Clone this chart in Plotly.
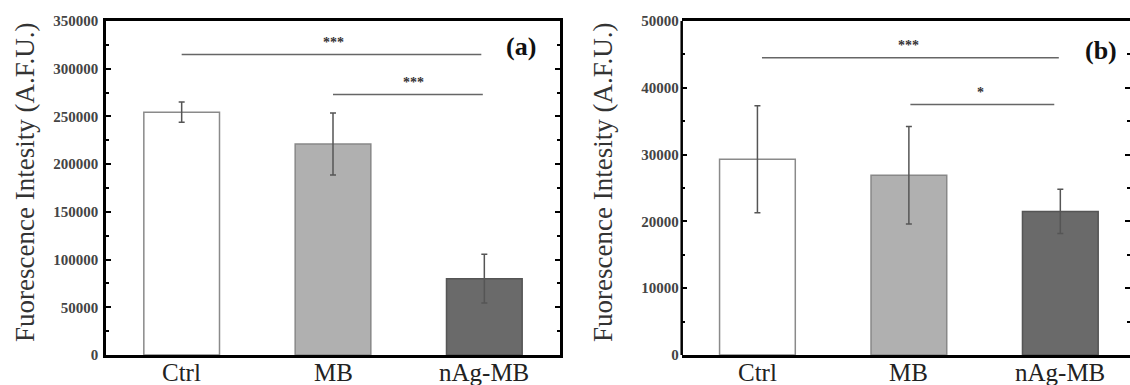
import plotly.graph_objects as go

categories = ["Ctrl", "MB", "nAg-MB"]
values_a = [254500, 221000, 80000]
errors_a = [10500, 32500, 25500]
values_b = [29300, 26900, 21500]
errors_b = [8000, 7300, 3300]
bar_fill = ["#ffffff", "#b0b0b0", "#6a6a6a"]
bar_line = ["#8a8a8a", "#888888", "#555555"]

# significance brackets: (start index, end index, y, label, label x index, label y)
sig_a = [(0.0, 1.98, 315000, "***", 1.0, 327000), (1.0, 1.99, 273000, "***", 1.535, 285500)]
sig_b = [(0.03, 1.99, 44500, "***", 1.0, 46400), (1.01, 1.96, 37500, "*", 1.47, 39300)]

ytitle = "Fuorescence Intesity (A.F.U.)"
FONT = "Liberation Serif"

fig = go.Figure()
for vals, errs, xa, ya in [(values_a, errors_a, "x", "y"), (values_b, errors_b, "x2", "y2")]:
    fig.add_trace(go.Bar(
        x=categories, y=vals, xaxis=xa, yaxis=ya, width=0.5,
        marker=dict(color=bar_fill, line=dict(color=bar_line, width=1.5)),
        error_y=dict(type="data", array=errs, color="#555555", thickness=1.5, width=3),
        showlegend=False,
    ))

shapes = []
annos = []
for sigs, xr, yr in [(sig_a, "x", "y"), (sig_b, "x2", "y2")]:
    for x0, x1, yv, lab, lx, ly in sigs:
        shapes.append(dict(type="line", xref=xr, yref=yr, x0=x0, x1=x1, y0=yv, y1=yv,
                           line=dict(color="#666666", width=1.5)))
        annos.append(dict(xref=xr, yref=yr, x=lx, y=ly, text="<b>" + lab + "</b>", showarrow=False,
                          font=dict(family=FONT, size=14, color="#333333"),
                          xanchor="center", yanchor="middle"))
    # category labels placed just below the axis
    for i, c in enumerate(categories):
        annos.append(dict(xref=xr, yref="paper", x=i, y=(385 - 357) / 385, text=c,
                          showarrow=False, xanchor="center", yanchor="top",
                          font=dict(family=FONT, size=25, color="#222222")))

# left axis line for panel b (right side is cut off)
shapes.append(dict(type="line", xref="x2 domain", yref="y2 domain", x0=0, x1=0, y0=0, y1=1,
                   line=dict(color="black", width=2.5)))

annos.append(dict(xref="x domain", yref="y domain", x=(521 - 106) / 454, y=(355 - 46) / 334,
                  text="<b>(a)</b>", showarrow=False, xanchor="center", yanchor="middle",
                  font=dict(family=FONT, size=26, color="#111111")))
annos.append(dict(xref="x2 domain", yref="y2 domain", x=(1101 - 681.7) / 448.3, y=(354 - 50) / 333,
                  text="<b>(b)</b>", showarrow=False, xanchor="center", yanchor="middle",
                  font=dict(family=FONT, size=26, color="#111111")))
for xp in [25 / 1130, 603 / 1130]:
    annos.append(dict(xref="paper", yref="paper", x=xp, y=(385 - 182) / 385, text=ytitle,
                      textangle=-90, showarrow=False,
                      font=dict(family=FONT, size=27, color="#333333"),
                      xanchor="center", yanchor="middle"))

ydom = [(385 - 355) / 385, (385 - 21) / 385]
xcommon = dict(type="category", showline=True, linecolor="black", linewidth=2.5, mirror=True,
               ticks="", showgrid=False, zeroline=False, automargin=False, showticklabels=False)
ycommon = dict(showgrid=False, zeroline=False, ticks="inside", ticklen=5, tickwidth=1.5,
               tickcolor="black", automargin=False, tickformat="d", ticklabelstandoff=2,
               tickfont=dict(family=FONT, size=15, color="#444444", weight="bold"))

fig.update_layout(
    width=1130, height=385, margin=dict(l=0, r=0, t=0, b=0),
    plot_bgcolor="white", paper_bgcolor="white",
    xaxis=dict(domain=[106 / 1130, 560 / 1130], range=[-0.5, 2.5], anchor="y", **xcommon),
    yaxis=dict(domain=ydom, range=[0, 350000], dtick=50000, anchor="x",
               showline=True, linecolor="black", linewidth=2.5, mirror="ticks",
               minor=dict(ticks="inside", ticklen=3, dtick=25000, tickcolor="black", tickwidth=1.5),
               **ycommon),
    xaxis2=dict(domain=[681.7 / 1130, 1.0], range=[-0.5, 2.46], anchor="y2", **xcommon),
    yaxis2=dict(domain=ydom, range=[0, 50000], dtick=10000, anchor="x2",
                showline=False, mirror="ticks",
                minor=dict(ticks="inside", ticklen=3, dtick=5000, tickcolor="black", tickwidth=1.5),
                **ycommon),
    shapes=shapes, annotations=annos,
)
fig.write_html("out.html")
